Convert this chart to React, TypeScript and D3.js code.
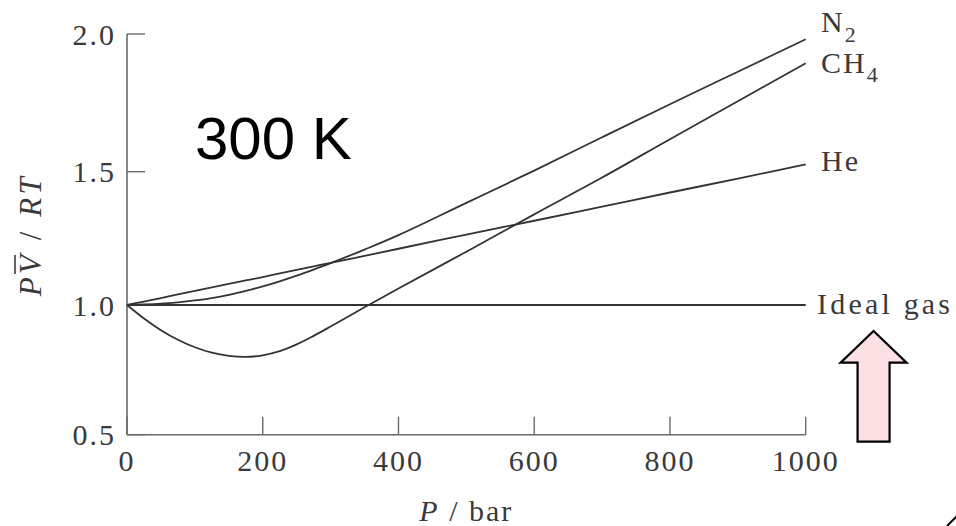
import { useMemo } from 'react'
import * as d3 from 'd3'

// pressure grid in bar
const pressures = [0, 25, 50, 75, 100, 125, 150, 175, 200, 225, 250, 275, 300, 350, 400, 500, 600, 700, 800, 900, 1000]
// compression factor PV/RT at 300 K
const n2Values = [1.0, 1.002, 1.005, 1.01, 1.017, 1.026, 1.038, 1.053, 1.07, 1.089, 1.11, 1.133, 1.157, 1.208, 1.262, 1.383, 1.504, 1.625, 1.745, 1.863, 1.981]
const ch4Values = [1.0, 0.948, 0.903, 0.866, 0.837, 0.816, 0.804, 0.8, 0.806, 0.822, 0.848, 0.881, 0.917, 0.991, 1.062, 1.2, 1.34, 1.478, 1.618, 1.756, 1.894]
const heValues = [1.0, 1.013, 1.026, 1.04, 1.053, 1.066, 1.079, 1.092, 1.105, 1.119, 1.132, 1.145, 1.158, 1.184, 1.211, 1.264, 1.316, 1.369, 1.422, 1.474, 1.527]
const idealValues = pressures.map(() => 1.0)

const xTicks = [0, 200, 400, 600, 800, 1000]
const yTicks = [0.5, 1.0, 1.5, 2.0]

const serif = '"Times New Roman", "Liberation Serif", Times, serif'
const ink = '#3a3a3a'
const axisColor = '#6a6a6a'

export default function App() {
  const x = useMemo(() => d3.scaleLinear().domain([0, 1000]).range([127, 805.7]), [])
  // the printed axis is slightly uneven, so pin each tick where it sits
  const y = useMemo(() => d3.scaleLinear().domain([0.5, 1.0, 1.5, 2.0]).range([434.7, 305, 171.7, 34]), [])

  const line = d3.line<[number, number]>()
    .x(d => x(d[0]))
    .y(d => y(d[1]))
    .curve(d3.curveCatmullRom.alpha(0.5))

  const series = [n2Values, ch4Values, heValues, idealValues]
  const paths = series.map(vals => line(pressures.map((p, i) => [p, vals[i]] as [number, number])) || '')

  const x0 = x(0)
  const yBase = y(0.5)
  const tickLen = 18

  // pink arrow beside the ideal gas label
  const ax = x(1100)
  const arrow = `M${ax},331 L${ax + 33},362.7 L${ax + 16},362.7 L${ax + 16},441.7 L${ax - 16},441.7 L${ax - 16},362.7 L${ax - 33},362.7 Z`

  return (
    <svg width={956} height={526} style={{ position: 'absolute', left: 0, top: 0, background: '#fff' }}>
      <rect width={956} height={526} fill="#fff" />

      {/* axes */}
      <line x1={x0} x2={x0} y1={y(2.0)} y2={yBase} stroke={axisColor} strokeWidth={1.6} />
      <line x1={x0} x2={x(1000)} y1={yBase} y2={yBase} stroke={axisColor} strokeWidth={1.6} />
      {yTicks.map(t => (
        <g key={'y' + t}>
          <line x1={x0} x2={x0 + tickLen} y1={y(t)} y2={y(t)} stroke={axisColor} strokeWidth={1.4} />
          <text x={116} y={y(t)} dy="0.35em" textAnchor="end" fontFamily={serif} fontSize={30}
            letterSpacing={2} fill={ink}>{t.toFixed(1)}</text>
        </g>
      ))}
      {xTicks.map(t => (
        <g key={'x' + t}>
          <line x1={x(t)} x2={x(t)} y1={yBase} y2={yBase - tickLen} stroke={axisColor} strokeWidth={1.4} />
          <text x={x(t)} y={471} textAnchor="middle" fontFamily={serif} fontSize={30}
            letterSpacing={2} fill={ink}>{t}</text>
        </g>
      ))}

      {/* axis titles */}
      <text x={x(500)} y={521} textAnchor="middle" fontFamily={serif} fontSize={30} letterSpacing={2} fill={ink}>
        <tspan fontStyle="italic">P</tspan> / bar
      </text>
      <g transform="translate(41,235) rotate(-90)">
        <text textAnchor="middle" fontFamily={serif} fontSize={31} letterSpacing={3.5} fill={ink}>
          <tspan fontStyle="italic">PV</tspan> / <tspan fontStyle="italic">RT</tspan>
        </text>
        {/* bar over V */}
        <line x1={-39} x2={-20} y1={-26} y2={-26} stroke={ink} strokeWidth={1.6} />
      </g>

      {/* curves */}
      {paths.map((d, i) => (
        <path key={i} d={d} fill="none" stroke="#333" strokeWidth={1.8} />
      ))}

      {/* curve labels */}
      <text x={821} y={31.7} fontFamily={serif} fontSize={30} letterSpacing={2} fill={ink}>
        N<tspan fontSize={22} dy={10}>2</tspan>
      </text>
      <text x={821} y={73.3} fontFamily={serif} fontSize={30} letterSpacing={2} fill={ink}>
        CH<tspan fontSize={22} dy={8.4}>4</tspan>
      </text>
      <text x={821} y={170.7} fontFamily={serif} fontSize={30} letterSpacing={2} fill={ink}>He</text>
      <text x={817} y={314} fontFamily={serif} fontSize={30} letterSpacing={3.2} fill={ink}>Ideal gas</text>

      <text x={195} y={159} fontFamily='"Liberation Sans", Arial, sans-serif' fontSize={60} fill="#000">300 K</text>

      <path d={arrow} fill="#fde0e4" stroke="#000" strokeWidth={2.2} strokeLinejoin="miter" />
      <line x1={947} y1={526} x2={957} y2={516} stroke="#000" strokeWidth={2} />
    </svg>
  )
}
